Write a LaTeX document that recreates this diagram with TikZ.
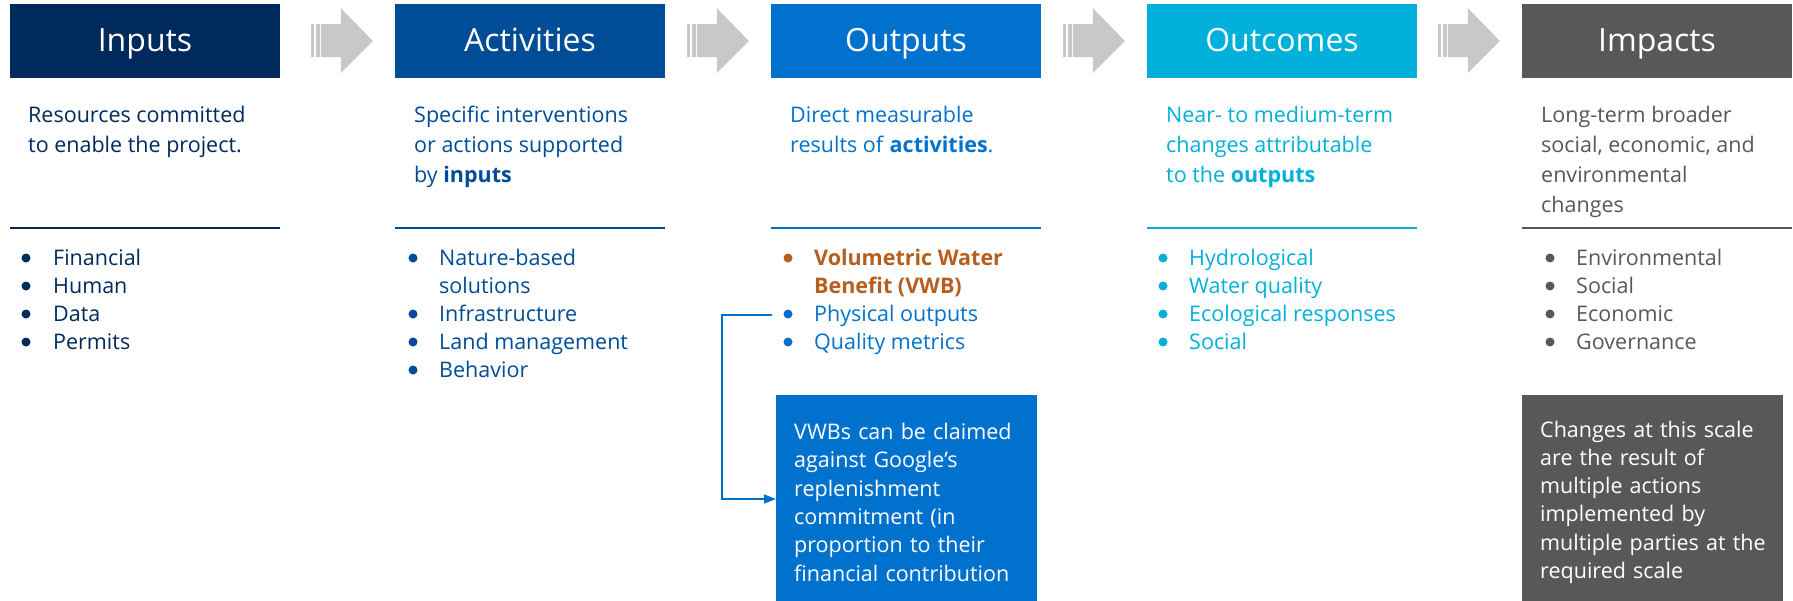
\documentclass[tikz,border=0pt]{standalone}
\usepackage{fontspec}
\setmainfont{Open Sans}
\usepackage{xcolor}
\usetikzlibrary{arrows.meta}

\definecolor{inC}{RGB}{0,42,92}
\definecolor{actC}{RGB}{0,76,151}
\definecolor{outC}{RGB}{0,114,206}
\definecolor{ocC}{RGB}{0,176,218}
\definecolor{impC}{RGB}{88,88,90}
\definecolor{vwbC}{RGB}{183,93,30}
\definecolor{arrC}{RGB}{200,200,200}

\newcommand{\vwb}[1]{{\bfseries\color{vwbC}#1}}

\tikzset{
  hdr/.style={minimum width=270pt, minimum height=74pt, inner sep=0pt, text height=21pt, text depth=0pt, text=white, font=\fontsize{32}{36}\selectfont},
  desc/.style={anchor=base west, align=left, inner sep=0pt, font=\fontsize{21.5}{30}\selectfont},
  lst/.style={anchor=base west, align=left, inner sep=0pt, font=\fontsize{21.5}{28}\selectfont},
  rule/.style={line width=2pt},
  note/.style={anchor=north west, text width=225pt, minimum height=214pt, inner xsep=18pt, inner ysep=0pt, align=left, text=white, font=\fontsize{21.5}{28.3}\selectfont},
  conn/.style={-{Triangle[length=12pt,width=9pt]}, line width=1.5pt, outC},
}

\begin{document}
\begin{tikzpicture}[x=1pt, y=-1pt]
  \useasboundingbox (0,0) rectangle (1793,600);

  \node[hdr, fill=inC] (INP) at (145,41) {Inputs};
  \node[hdr, fill=actC, right of=INP, node distance=385pt] (ACT) {Activities};
  \node[hdr, fill=outC, right of=ACT, node distance=376pt] (OUT) {Outputs};
  \node[hdr, fill=ocC, right of=OUT, node distance=376pt] (OUC) {Outcomes};
  \node[hdr, fill=impC, right of=OUC, node distance=375pt] (IMP) {Impacts};

  % grey block arrows between the headers
  \foreach \n in {ACT,OUT,OUC,IMP} {
    \begin{scope}[shift={(\n.west)}]
      \fill[arrC] (-84,-17) rectangle (-81,16);
      \fill[arrC] (-79,-17) rectangle (-75,16);
      \fill[arrC] (-74,-17) -- (-54,-17) -- (-54,-33) -- (-22,0) -- (-54,32) -- (-54,16) -- (-74,16) -- cycle;
    \end{scope}
  }

  \foreach \n/\c in {INP/inC,ACT/actC,OUT/outC,OUC/ocC,IMP/impC}
    \draw[rule, \c] (\n.south west) ++(0,150) -- ++(270,0);

  % base anchor sits on the last line
  \node[desc, text=inC] (INPd) at (28,152) {Resources committed\\to enable the project.};
  \node[desc, text=actC] (ACTd) at (414,182) {Specific interventions\\or actions supported\\by \textbf{inputs}};
  \node[desc, text=outC] (OUTd) at (790,152) {Direct measurable\\results of \textbf{activities}.};
  \node[desc, text=ocC] (OUCd) at (1166,182) {Near- to medium-term\\changes attributable\\to the \textbf{outputs}};
  \node[desc, text=impC] (IMPd) at (1541,212) {Long-term broader\\social, economic, and\\environmental\\changes};

  \node[lst, text=inC] (INPl) at (53,349) {Financial\\Human\\Data\\Permits};
  \node[lst, text=actC] (ACTl) at (439,377) {Nature-based\\solutions\\Infrastructure\\Land management\\Behavior};
  \node[lst, text=outC] (OUTl) at (814,349) {\vwb{Volumetric Water}\\\vwb{Benefit (VWB)}\\Physical outputs\\Quality metrics};
  \node[lst, text=ocC] (OUCl) at (1189,349) {Hydrological\\Water quality\\Ecological responses\\Social};
  \node[lst, text=impC] (IMPl) at (1576,349) {Environmental\\Social\\Economic\\Governance};

  \foreach \y in {258,286,314,342} {
    \fill[inC] (26,\y) circle (4.5pt);
    \fill[ocC] (1163,\y) circle (4.5pt);
    \fill[impC] (1550,\y) circle (4.5pt);
  }
  \foreach \y in {258,314,342,370} \fill[actC] (413,\y) circle (4.5pt);
  \fill[vwbC] (788,258) circle (4.5pt);
  \foreach \y in {314,342} \fill[outC] (788,\y) circle (4.5pt);

  \node[note, fill=outC] (VWB) at (776,395) {VWBs can be claimed\\against Google’s\\replenishment\\commitment (in\\proportion to their\\\mbox{financial contribution}};
  \node[note, fill=impC] (IMPn) at (1522,395) {Changes at this scale\\are the result of\\multiple actions\\implemented by\\\mbox{multiple parties at the}\\required scale};

  \coordinate (PHY) at (772,315);
  \draw[conn] (PHY) -- ++(-50,0) |- (VWB.west |- 0,499);
\end{tikzpicture}
\end{document}
